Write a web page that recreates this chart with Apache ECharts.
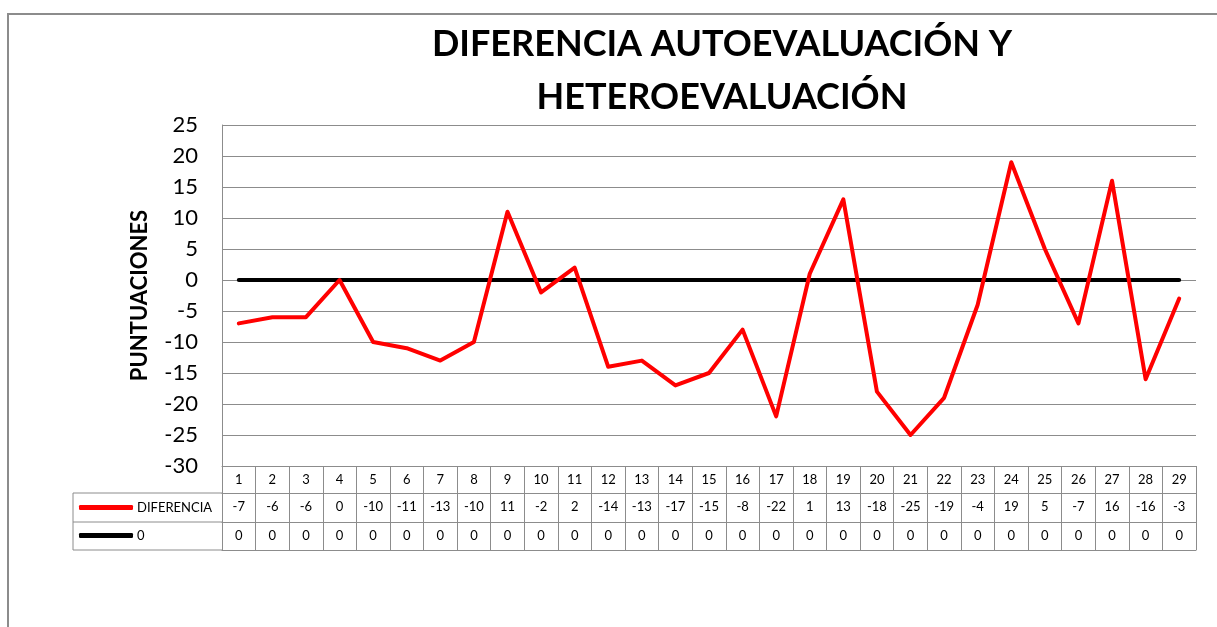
<!DOCTYPE html>
<html>
<head>
<meta charset="utf-8">
<script src="https://cdn.jsdelivr.net/npm/echarts@6/dist/echarts.min.js"></script>
<style>html,body{margin:0;padding:0;background:#fff;}#c{width:1217px;height:627px;}</style>
</head>
<body>
<div id="c"></div>
<script>
var categories = ['1','2','3','4','5','6','7','8','9','10','11','12','13','14','15','16','17','18','19','20','21','22','23','24','25','26','27','28','29'];
var diferencia = [-7,-6,-6,0,-10,-11,-13,-10,11,-2,2,-14,-13,-17,-15,-8,-22,1,13,-18,-25,-19,-4,19,5,-7,16,-16,-3];
var cero = [0,0,0,0,0,0,0,0,0,0,0,0,0,0,0,0,0,0,0,0,0,0,0,0,0,0,0,0,0];
var titleText = 'DIFERENCIA AUTOEVALUACIÓN Y\nHETEROEVALUACIÓN';
var yName = 'PUNTUACIONES';

var FONT = 'Lato, "Open Sans", sans-serif';
var GRAY = '#8c8c8c';
var G = {left: 222, right: 21, top: 125, height: 341};
var ROW = [27, 29, 28]; // table row heights
var tableLeft = 73;
var gBottom = G.top + G.height;
var r1 = gBottom + ROW[0], r2 = r1 + ROW[1], r3 = r2 + ROW[2];

function tableAxis(offset, tickLen, formatter, showLabel) {
  return {
    type: 'category', data: categories, position: 'bottom', offset: offset,
    boundaryGap: true,
    axisLine: {show: true, onZero: false, lineStyle: {color: GRAY, width: 1}},
    axisTick: {show: tickLen > 0, length: tickLen, lineStyle: {color: GRAY, width: 1}},
    axisLabel: {show: showLabel, margin: 7, fontSize: 13, color: '#000', fontFamily: FONT,
      interval: 0, formatter: formatter},
    splitLine: {show: false}
  };
}

var chart = echarts.init(document.getElementById('c'), null, {renderer: 'canvas'});
chart.setOption({
  animation: false,
  backgroundColor: '#fff',
  title: {
    text: titleText, left: 722, top: 18, textAlign: 'center', padding: 0,
    textStyle: {fontFamily: FONT, fontWeight: 'bold', fontSize: 36, color: '#000', lineHeight: 53}
  },
  grid: {left: G.left, right: G.right, top: G.top, height: G.height, containLabel: false},
  legend: [
    {data: ['DIFERENCIA'], left: 79, top: r1 + 8, padding: 0, orient: 'vertical', icon: 'roundRect',
     itemWidth: 54, itemHeight: 5, itemGap: 0, selectedMode: false,
     textStyle: {fontFamily: FONT, fontSize: 13, color: '#000', padding: [0,0,0,-1]}},
    {data: ['0'], left: 79, top: r2 + 7, padding: 0, orient: 'vertical', icon: 'roundRect',
     itemWidth: 54, itemHeight: 5, itemGap: 0, selectedMode: false,
     textStyle: {fontFamily: FONT, fontSize: 13, color: '#000', padding: [0,0,0,-1]}}
  ],
  xAxis: [
    tableAxis(0, ROW[0], function (v) { return v; }, true),
    tableAxis(ROW[0], ROW[1], function (v, i) { return String(diferencia[i]); }, true),
    tableAxis(ROW[0] + ROW[1], ROW[2], function (v, i) { return String(cero[i]); }, true),
    tableAxis(ROW[0] + ROW[1] + ROW[2], 0, function () { return ''; }, false)
  ],
  yAxis: {
    type: 'value', min: -30, max: 25, interval: 5,
    name: yName, nameLocation: 'middle', nameGap: 71, nameRotate: 90,
    nameTextStyle: {fontFamily: FONT, fontWeight: 'bold', fontSize: 22, color: '#000'},
    axisLine: {show: true, lineStyle: {color: GRAY, width: 1}},
    axisTick: {show: false},
    axisLabel: {fontFamily: FONT, fontSize: 22, color: '#000', margin: 24},
    splitLine: {show: true, lineStyle: {color: GRAY, width: 1}}
  },
  series: [
    {name: '0', type: 'line', data: cero, xAxisIndex: 0, symbol: 'none', z: 2,
     lineStyle: {color: '#000000', width: 4, cap: 'round', join: 'round'},
     itemStyle: {color: '#000000'}},
    {name: 'DIFERENCIA', type: 'line', data: diferencia, xAxisIndex: 0, symbol: 'none', z: 3,
     lineStyle: {color: '#ff0000', width: 4, cap: 'round', join: 'round'},
     itemStyle: {color: '#ff0000'}}
  ],
  graphic: [
    {type: 'rect', silent: true, shape: {x: 8, y: 14, width: 1400, height: 800},
     style: {fill: null, stroke: GRAY, lineWidth: 2}},
    {type: 'polyline', silent: true,
     shape: {points: [[G.left, r1], [tableLeft, r1], [tableLeft, r3], [G.left, r3]]},
     style: {fill: null, stroke: GRAY, lineWidth: 1}},
    {type: 'line', silent: true, shape: {x1: tableLeft, y1: r2, x2: G.left, y2: r2},
     style: {stroke: GRAY, lineWidth: 1}}
  ]
});
</script>
</body>
</html>
